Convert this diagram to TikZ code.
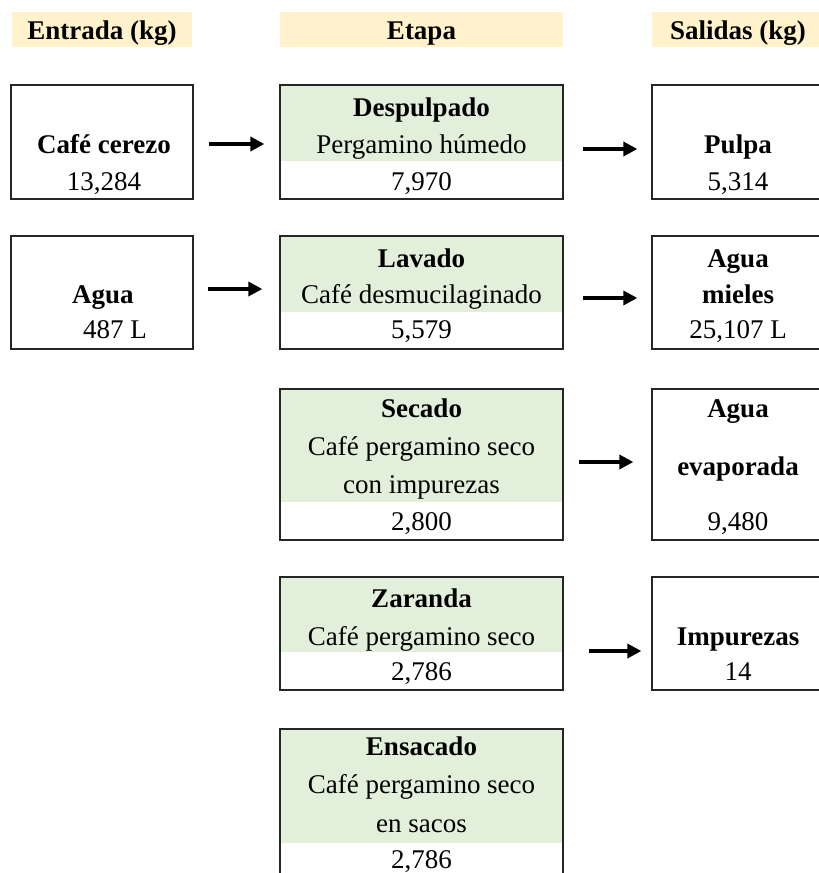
\documentclass[tikz,border=0pt]{standalone}
\usepackage{fontspec}
\setmainfont{Liberation Serif}
\usetikzlibrary{arrows.meta}
\definecolor{hdr}{HTML}{FFF2CC}
\definecolor{grn}{HTML}{E2EFDA}
\begin{document}
\begin{tikzpicture}[x=1pt,y=-1pt,
  box/.style={draw=black!85, line width=1.3pt, inner sep=0pt},
  hdrbox/.style={fill=hdr, inner sep=0pt, text height=20pt, text depth=0pt, font=\fontsize{27}{32}\selectfont\bfseries},
  txt/.style={anchor=base, inner sep=0pt, font=\fontsize{27}{32}\selectfont},
  btxt/.style={anchor=base, inner sep=0pt, font=\fontsize{27}{32}\selectfont\bfseries},
  arr/.style={line width=3.4pt, -{Triangle[length=14pt,width=14pt]}},
]
\useasboundingbox (0,0) rectangle (819,873);
\clip (0,0) rectangle (819,873);
\fill[white] (0,0) rectangle (819,873);

% headers
\node[hdrbox, minimum width=180pt, minimum height=35pt] (hE) at (102,29.5) {Entrada (kg)};
\node[hdrbox, minimum width=283pt, minimum height=35pt] (hS) at (421.5,29.5) {Etapa};
\node[hdrbox, minimum width=172pt, minimum height=35pt] (hO) at (738,29.5) {Salidas (kg)};

% green fills
\fill[grn] (280,85) rectangle (563,161);
\fill[grn] (280,236) rectangle (563,312);
\fill[grn] (280,389) rectangle (563,502);
\fill[grn] (280,577) rectangle (563,652);
\fill[grn] (280,729) rectangle (563,843);

% row 1
\node[box, minimum width=182pt, minimum height=114pt] (cafe) at (102,142) {};
\node[box, minimum width=283pt, minimum height=114pt] (desp) at (421.5,142) {};
\node[box, minimum width=172pt, minimum height=114pt] (pulpa) at (738,142) {};
\node[btxt] (cafeA) at (104,153) {Café cerezo};
\node[txt] (cafeB) at (104,190) {13,284};
\node[btxt] (despA) at (421.5,116) {Despulpado};
\node[txt] (despB) at (421.5,153) {Pergamino húmedo};
\node[txt] (despC) at (421.5,190) {7,970};
\node[btxt] (pulpaA) at (738,153) {Pulpa};
\node[txt] (pulpaB) at (738,190) {5,314};

% row 2
\node[box, minimum width=182pt, minimum height=113pt] (agua) at (102,292.5) {};
\node[box, minimum width=283pt, minimum height=113pt] (lav) at (421.5,292.5) {};
\node[box, minimum width=172pt, minimum height=113pt] (miel) at (738,292.5) {};
\node[btxt] (aguaA) at (103,303) {Agua};
\node[txt] (aguaB) at (115,338) {487 L};
\node[btxt] (lavA) at (421.5,267) {Lavado};
\node[txt] (lavB) at (421.5,303) {Café desmucilaginado};
\node[txt] (lavC) at (421.5,338) {5,579};
\node[btxt] (mielA) at (738,267) {Agua};
\node[btxt] (mielB) at (738,303) {mieles};
\node[txt] (mielC) at (738,338) {25,107 L};

% row 3
\node[box, minimum width=283pt, minimum height=151pt] (sec) at (421.5,464.5) {};
\node[box, minimum width=172pt, minimum height=151pt] (evap) at (738,464.5) {};
\node[btxt] (secA) at (421.5,417) {Secado};
\node[txt] (secB) at (421.5,455) {Café pergamino seco};
\node[txt] (secC) at (421.5,493) {con impurezas};
\node[txt] (secD) at (421.5,530) {2,800};
\node[btxt] (evapA) at (738,417) {Agua};
\node[btxt] (evapB) at (738,475) {evaporada};
\node[txt] (evapC) at (738,530) {9,480};

% row 4
\node[box, minimum width=283pt, minimum height=113pt] (zar) at (421.5,633.5) {};
\node[box, minimum width=172pt, minimum height=113pt] (imp) at (738,633.5) {};
\node[btxt] (zarA) at (421.5,607) {Zaranda};
\node[txt] (zarB) at (421.5,645) {Café pergamino seco};
\node[txt] (zarC) at (421.5,680) {2,786};
\node[btxt] (impA) at (738,645) {Impurezas};
\node[txt] (impB) at (738,680) {14};

% row 5
\node[box, minimum width=283pt, minimum height=160pt] (ens) at (421.5,809) {};
\node[btxt] (ensA) at (421.5,755) {Ensacado};
\node[txt] (ensB) at (421.5,793) {Café pergamino seco};
\node[txt] (ensC) at (421.5,832) {en sacos};
\node[txt] (ensD) at (421.5,868) {2,786};

% arrows
\draw[arr] ([shift={(15,2)}]cafe.east) -- ([shift={(-15,2)}]desp.west);
\draw[arr] ([shift={(14,-3.5)}]agua.east) -- ([shift={(-17,-3.5)}]lav.west);
\draw[arr] ([shift={(19,7)}]desp.east) -- ([shift={(-14,7)}]pulpa.west);
\draw[arr] ([shift={(19,5.5)}]lav.east) -- ([shift={(-14,5.5)}]miel.west);
\draw[arr] ([shift={(15,-2.5)}]sec.east) -- ([shift={(-18,-2.5)}]evap.west);
\draw[arr] ([shift={(25,17.5)}]zar.east) -- ([shift={(-10,17.5)}]imp.west);
\end{tikzpicture}
\end{document}
